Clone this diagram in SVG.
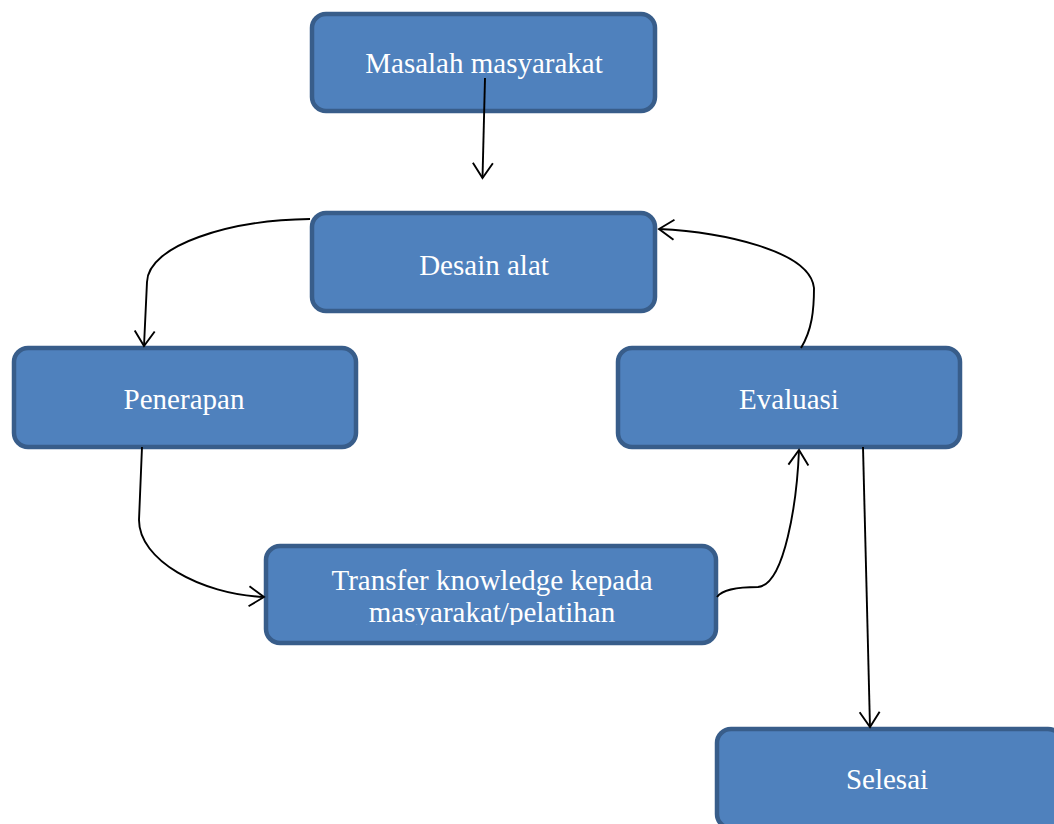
<svg xmlns="http://www.w3.org/2000/svg" width="1054" height="824" viewBox="0 0 1054 824">
<style>
.box{fill:#4f81bd;stroke:#385d8a;stroke-width:4.5}
.lbl{font-family:"Liberation Serif","Times New Roman",serif;font-size:29px;fill:#ffffff;text-anchor:middle}
.con{fill:none;stroke:#000;stroke-width:1.9}
</style>
<defs>
<marker id="arr" viewBox="-18 -12 20 24" markerWidth="20" markerHeight="24" refX="0" refY="0" orient="auto" markerUnits="userSpaceOnUse">
<path d="M-15,-10 L0,0 L-15,10" fill="none" stroke="#000" stroke-width="1.9"/>
</marker>
<clipPath id="clipT"><rect x="266" y="546" width="450" height="79"/></clipPath>
</defs>
<rect width="1054" height="824" fill="#fff"/>
<g id="n-masalah"><rect class="box" x="312" y="14" width="343" height="97" rx="14"/><text class="lbl" x="484" y="73">Masalah masyarakat</text></g>
<g id="n-desain"><rect class="box" x="312" y="213" width="343" height="98" rx="14"/><text class="lbl" x="484" y="275">Desain alat</text></g>
<g id="n-penerapan"><rect class="box" x="14" y="348" width="342" height="99" rx="14"/><text class="lbl" x="184" y="409">Penerapan</text></g>
<g id="n-evaluasi"><rect class="box" x="618" y="348" width="342" height="99" rx="14"/><text class="lbl" x="789" y="409">Evaluasi</text></g>
<g id="n-transfer"><rect class="box" x="266" y="546" width="450" height="97" rx="14"/><g clip-path="url(#clipT)"><text class="lbl" x="492" y="590">Transfer knowledge kepada</text><text class="lbl" x="492" y="622">masyarakat/pelatihan</text></g></g>
<g id="n-selesai"><rect class="box" x="717" y="729" width="345" height="99" rx="14"/><text class="lbl" x="887" y="789">Selesai</text></g>
<g id="connectors">
<path class="con" d="M485,78 L482.5,178" marker-end="url(#arr)"/>
<path class="con" d="M310,219 C230,220 148,245 147,282 L144,346" marker-end="url(#arr)"/>
<path class="con" d="M801,348 C812,330 814,310 814,288 C810,250 720,232 659,229" marker-end="url(#arr)"/>
<path class="con" d="M142,447 L139,520 C139,560 200,594 264,597" marker-end="url(#arr)"/>
<path class="con" d="M717,597 C722,590 735,587 758,587 C785,585 797,500 799,450" marker-end="url(#arr)"/>
<path class="con" d="M863,447 L870,727" marker-end="url(#arr)"/>
</g>
</svg>
